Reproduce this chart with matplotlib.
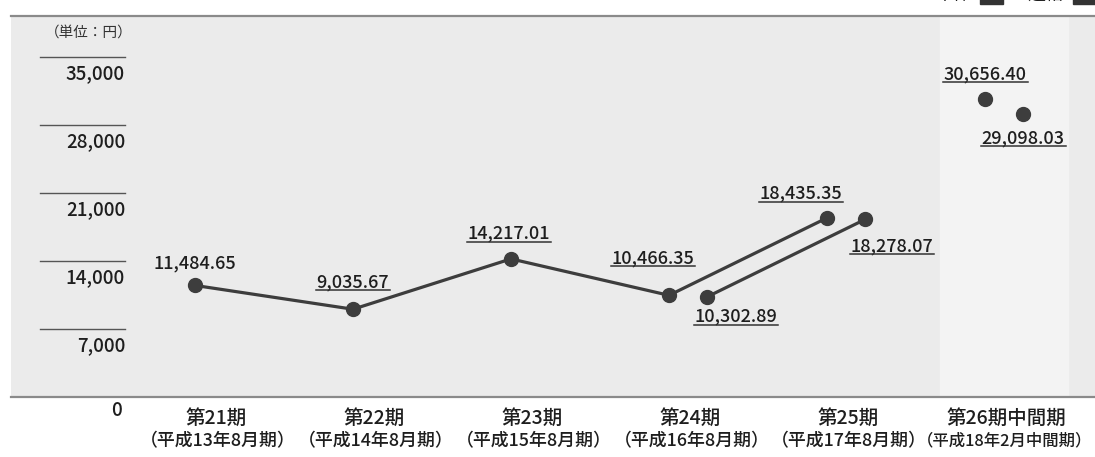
import matplotlib.pyplot as plt
from matplotlib.lines import Line2D
from matplotlib.patches import Rectangle
from matplotlib.transforms import blended_transform_factory
import numpy as np

plt.rcParams['font.family'] = ['Noto Sans CJK JP', 'DejaVu Sans']

# データ（単位：円）
periods = ['第21期', '第22期', '第23期', '第24期', '第25期', '第26期中間期']
period_sub = ['（平成13年8月期）', '（平成14年8月期）', '（平成15年8月期）',
              '（平成16年8月期）', '（平成17年8月期）', '（平成18年2月中間期）']
single_vals = [11484.65, 9035.67, 14217.01, 10466.35, 18435.35, 30656.40]
consol_idx = [3, 4, 5]
consol_vals = [10302.89, 18278.07, 29098.03]
yticks = [7000, 14000, 21000, 28000, 35000]

# label offsets in pixels (dx, dy up) ; underline or not
single_off = [(0, 22, False), (0, 27, True), (-2, 25, True),
              (-16, 37, True), (-26, 24, True), (0, 25, True)]
consol_off = [(29, -20, True), (27, -27, True), (0, -24, True)]

W, H = 1095, 457
fig = plt.figure(figsize=(W / 100, H / 100), dpi=100)
ax = fig.add_axes([11 / W, 60 / H, 1084 / W, 381 / H])
ax.set_facecolor('#ebebeb')
step = 158.0
ax.set_xlim((11 - 195) / step, (1095 - 195) / step)
ax.set_ylim(0, 381 / 68 * 7000)
for s in ax.spines.values():
    s.set_visible(False)
for k in ['top', 'bottom']:
    ax.spines[k].set_visible(True)
    ax.spines[k].set_color('#8a8a8a')
    ax.spines[k].set_linewidth(1.6)
ax.set_xticks([])
ax.set_yticks([])

# 中間期の明るい列
ax.axvspan((940 - 195) / step, (1068 - 195) / step, color='#f3f3f3', zorder=0)

tc = '#1e1e1e'
fw = 'medium'

# 目盛り線とラベル
tr = blended_transform_factory(ax.transAxes, ax.transData)
x0 = (40 - 11) / 1084
x1 = (125 - 11) / 1084
for v in yticks:
    ax.plot([x0, x1], [v, v], transform=tr, color='#555555', lw=1, clip_on=False)
    ax.annotate(f'{v:,}', (x1, v), xycoords=tr, xytext=(0, -17 * 0.72),
                textcoords='offset points', ha='right', va='center', fontsize=13.5,
                color=tc, fontweight=fw)
ax.annotate('0', (x1, 0), xycoords=tr, xytext=(-2, -14 * 0.72),
            textcoords='offset points', ha='right', va='center', fontsize=13.5,
            color=tc, fontweight=fw, annotation_clip=False)
ax.annotate('（単位：円）', (x1, ax.get_ylim()[1]), xycoords=tr,
            xytext=(8 * 0.72, -17 * 0.72), textcoords='offset points',
            ha='right', va='center', fontsize=10.5, color='#333333')

# 折れ線
xs = np.arange(len(single_vals))
lc = '#3d3d3d'
ax.plot(xs[:5], single_vals[:5], color=lc, lw=2.3, zorder=3)
ax.plot(xs, single_vals, 'o', color=lc, ms=10, zorder=4)
cx = np.array(consol_idx) + 38 / step
ax.plot(cx[:2], consol_vals[:2], color=lc, lw=2.3, zorder=3)
ax.plot(cx, consol_vals, 'o', color=lc, ms=10, zorder=4)

labels = []
for x, v, (dx, dy, ul) in zip(list(xs) + list(cx), single_vals + consol_vals,
                              single_off + consol_off):
    t = ax.annotate(f'{v:,.2f}', (x, v), xytext=(dx * 0.72, dy * 0.72),
                    textcoords='offset points', ha='center', va='center',
                    fontsize=13, color=tc, fontweight=fw)
    labels.append((t, ul))

# 区分ラベル
lab_shift = 21 / step
sub_dx = [2, 2, 2, 2, 1, -1]
for i, (p, s) in enumerate(zip(periods, period_sub)):
    ax.annotate(p, (i + lab_shift, 0), xytext=(0, -21 * 0.72), textcoords='offset points',
                ha='center', va='center', fontsize=14, color=tc, fontweight=fw,
                annotation_clip=False)
    ax.annotate(s, (i + lab_shift + sub_dx[i] / step, 0), xytext=(0, -44 * 0.72),
                textcoords='offset points', ha='center', va='center',
                fontsize=11.8 if i == 5 else 12.9,
                color=tc, fontweight=fw, annotation_clip=False)

# 凡例（上端で切れている）
for name, tx, rx in [('単体', 953, 980), ('連結', 1045, 1073)]:
    fig.text(tx / W, 1 - 4 / H, name, ha='center', va='bottom', fontsize=13, color=tc)
    fig.patches.append(Rectangle((rx / W, 1 - 4 / H), 23 / W, 14 / H,
                                 transform=fig.transFigure, color='#333333'))

fig.canvas.draw()
r = fig.canvas.get_renderer()
for t, ul in labels:
    if not ul:
        continue
    bb = t.get_window_extent(r)
    y = bb.y0 + 1
    fig.lines.append(Line2D([(bb.x0 - 1) / W, (bb.x1 + 1) / W], [y / H, y / H],
                            transform=fig.transFigure, color='#333333', lw=1.1))

fig.savefig('out.png', dpi=100)
